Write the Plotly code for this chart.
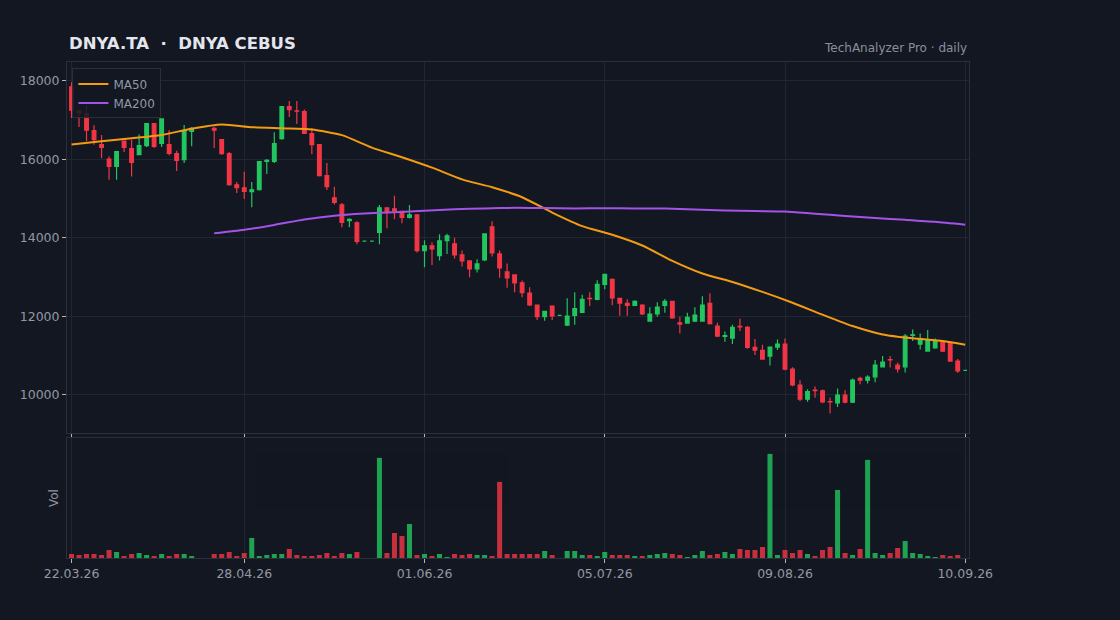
import pandas as pd
import plotly.graph_objects as go

# ---------------- data ----------------
holidays = ["2026-04-01", "2026-04-02", "2026-04-08", "2026-04-22", "2026-07-23"]
dates = pd.bdate_range("2026-03-22", "2026-09-10", freq="C",
                       weekmask="Sun Mon Tue Wed Thu", holidays=holidays)
labels = [d.strftime("%d.%m.%y") for d in dates]

N = None
open_ = [17847, 17243, 17166, 16732, 16375, 16009, 15821, 16468, 16273, 16119,
         16349, 16911, 16409, 16375, 16145, 15991, 16715, N, N, 16792,
         16502, 16145, 15353, 15277, 15175, 15226, 15950, 15949, 16528, 17345,
         17234, 17217, 16656, 16375, 15583, 15022, 14843, 14440, 14383, 13915,
         13915, 14136, 14766, 14741, 14673, 14519, 14588, 13677, 13796, 13549,
         13932, 13847, 13566, 13413, 13209, 13439, 14281, 13592, 13132, 13056,
         12851, 12596, 12290, 11990, 12264, 12026, 11779, 12026, 12102, 12460,
         12434, 12817, 12945, 12460, 12332, 12281, 12290, 11881, 12060, 12281,
         12383, 11838, 11830, 11881, 11881, 12332, 11754, 11490, 11447, 11745,
         11719, 11209, 11132, 10988, 11217, 11294, 10656, 10247, 9890, 10120,
         10103, 9830, 9796, 9992, 9813, 10418, 10375, 10460, 10716, 10900,
         10758, 10716, 11515, 11294, 11115, 11200, 11353, 11328, 10860, 10622]
high = [17966, 17260, 17370, 16868, 16621, 16077, 16210, 16480, 16502, 16638,
        16920, 16925, 17040, 16741, 16221, 16877, 16826, N, N, 16826,
        16519, 16187, 15421, 15685, 15421, 15958, 16009, 16689, 17360, 17489,
        17489, 17268, 16800, 16390, 15906, 15302, 14885, 14502, 14426, 13915,
        13915, 14834, 14770, 15073, 14680, 14834, 14595, 13941, 13890, 14094,
        14102, 14000, 13677, 13420, 13456, 14110, 14426, 13677, 13345, 13073,
        12911, 12741, 12300, 12140, 12281, 12026, 12460, 12613, 12553, 12613,
        12919, 13080, 12962, 12465, 12434, 12409, 12307, 12230, 12358, 12443,
        12390, 11992, 12094, 12230, 12511, 12587, 11838, 11617, 11787, 11941,
        11753, 11421, 11277, 11225, 11413, 11438, 10707, 10375, 10145, 10213,
        10137, 9932, 10162, 10120, 10418, 10460, 10503, 10886, 10988, 10988,
        10826, 11549, 11668, 11566, 11651, 11438, 11360, 11335, 10911, 10622]
low = [17055, 16826, 16460, 16375, 16026, 15481, 15481, 16187, 15566, 16102,
       16315, 16290, 16315, 16102, 15702, 15906, 16332, N, N, 16290,
       16119, 15328, 15141, 14987, 14783, 15209, 15626, 15906, 16502, 17081,
       16902, 16656, 16128, 15566, 15217, 14851, 14273, 14273, 13839, 13915,
       13915, 13839, 14247, 14477, 14375, 14494, 13626, 13252, 13311, 13422,
       13592, 13473, 13268, 12996, 13115, 13413, 13524, 12987, 12732, 12613,
       12485, 12264, 11907, 11890, 11907, 12026, 11754, 11788, 12085, 12264,
       12409, 12689, 12281, 12017, 12017, 12264, 12034, 11864, 11992, 12094,
       11941, 11566, 11813, 11856, 11864, 11796, 11472, 11353, 11294, 11625,
       11175, 11013, 10894, 10749, 11141, 10630, 10222, 9839, 9822, 9924,
       9788, 9524, 9694, 9788, 9796, 10273, 10290, 10324, 10699, 10699,
       10571, 10571, 11370, 11158, 11098, 11175, 11090, 10843, 10562, 10622]
close = [17251, 17175, 16741, 16502, 16307, 15821, 16196, 16307, 15923, 16349,
         16911, 16332, 17030, 16153, 15974, 16724, 16792, N, N, 16741,
         16145, 15353, 15277, 15183, 15226, 15941, 15974, 16400, 17345, 17268,
         17226, 16664, 16375, 15583, 15302, 14902, 14392, 14470, 13907, 13915,
         13915, 14766, 14647, 14690, 14519, 14588, 13677, 13796, 13720, 13924,
         14051, 13566, 13413, 13209, 13336, 14100, 13617, 13234, 12979, 12851,
         12604, 12290, 11992, 12130, 12009, 12026, 12009, 12196, 12434, 12450,
         12817, 13073, 12468, 12340, 12281, 12383, 12060, 12060, 12238, 12383,
         11958, 11805, 11975, 12034, 12290, 11813, 11498, 11510, 11719, 11735,
         11209, 11141, 10911, 11217, 11294, 10656, 10256, 9890, 10086, 10110,
         9822, 9822, 9992, 9813, 10375, 10375, 10452, 10758, 10835, 10890,
         10665, 11498, 11532, 11413, 11396, 11370, 11115, 10860, 10613, 10622]
volume = [40000, 30000, 40000, 40000, 30000, 80000, 60000, 20000, 40000, 50000,
          30000, 20000, 40000, 20000, 40000, 40000, 20000, N, N, 40000,
          40000, 60000, 20000, 50000, 200000, 20000, 30000, 40000, 40000, 90000,
          30000, 20000, 20000, 30000, 50000, 20000, 50000, 40000, 60000, N,
          N, 1000000, 50000, 250000, 220000, 340000, 30000, 40000, 20000, 40000,
          10000, 40000, 30000, 40000, 30000, 30000, 20000, 760000, 40000, 40000,
          40000, 40000, 40000, 70000, 30000, N, 70000, 70000, 30000, 30000,
          20000, 60000, 30000, 30000, 30000, 20000, 20000, 30000, 40000, 50000,
          40000, 30000, 10000, 30000, 70000, 30000, 40000, 60000, 40000, 90000,
          80000, 80000, 110000, 1040000, 30000, 80000, 50000, 80000, 40000, 20000,
          80000, 110000, 680000, 50000, 30000, 90000, 980000, 50000, 30000, 50000,
          100000, 170000, 50000, 40000, 20000, 10000, 30000, 20000, 30000, N]

ma50_idx = [0, 4, 8, 12, 16, 20, 24, 28, 32, 36, 40, 44, 48, 52, 56, 60,
            64, 68, 72, 76, 80, 84, 88, 92, 96, 100, 104, 108, 112, 116, 119]
ma50_val = [16380, 16460, 16536, 16621, 16780, 16885, 16820, 16790, 16760, 16617,
            16300, 16055, 15790, 15490, 15290, 15035, 14645, 14300, 14080, 13806,
            13414, 13092, 12877, 12623, 12347, 12043, 11753, 11540, 11440, 11370,
            11277]
ma200_idx = [19, 23, 27, 31, 35, 39, 43, 47, 51, 55, 59, 63, 67, 71, 75, 79,
             83, 87, 91, 95, 99, 103, 107, 111, 115, 119]
ma200_val = [14115, 14205, 14330, 14470, 14565, 14618, 14655, 14688, 14728, 14750,
             14765, 14760, 14750, 14755, 14750, 14745, 14722, 14700, 14683, 14673,
             14615, 14560, 14505, 14460, 14410, 14335]

tick_idx = [0, 23, 47, 71, 95, 119]
price_ticks = [10000, 12000, 14000, 16000, 18000]

# ---------------- style ----------------
BG = "#131722"
GRID = "#222633"
BORDER = "#2a2f3c"
TXT = "#9398a5"
UP = "#22c55e"
DOWN = "#f23645"
FONT = "DejaVu Sans"

# volume colours by direction (previous close for flat candles)
vol_colors = []
prev_c = None
for o, c in zip(open_, close):
    if o is None:
        vol_colors.append(UP)
        continue
    if c == o:
        up = (prev_c is None) or (c >= prev_c)
    else:
        up = c > o
    vol_colors.append(UP if up else DOWN)
    prev_c = c

fig = go.Figure()
fig.add_trace(go.Candlestick(
    x=labels, open=open_, high=high, low=low, close=close,
    increasing=dict(line=dict(color=UP, width=1.2), fillcolor=UP),
    decreasing=dict(line=dict(color=DOWN, width=1.2), fillcolor=DOWN),
    showlegend=False, name="DNYA.TA", xaxis="x", yaxis="y"))
fig.add_trace(go.Scatter(
    x=[labels[i] for i in ma50_idx], y=ma50_val, mode="lines", name="MA50",
    line=dict(color="#f39c12", width=2, shape="spline", smoothing=0.6),
    xaxis="x", yaxis="y"))
fig.add_trace(go.Scatter(
    x=[labels[i] for i in ma200_idx], y=ma200_val, mode="lines", name="MA200",
    line=dict(color="#a353e8", width=2, shape="spline", smoothing=0.6),
    xaxis="x", yaxis="y"))
fig.add_trace(go.Bar(
    x=labels, y=volume, marker=dict(color=vol_colors, line=dict(width=0)),
    opacity=0.8, showlegend=False, name="Vol", xaxis="x2", yaxis="y2"))

axis_common = dict(
    type="category", categoryorder="array", categoryarray=labels,
    range=[-0.6, 119.5], tickmode="array",
    tickvals=[labels[i] for i in tick_idx], ticktext=[labels[i] for i in tick_idx],
    showgrid=True, gridcolor=GRID, gridwidth=1, zeroline=False,
    showline=True, linecolor=BORDER, linewidth=1, mirror=True,
    ticks="outside", ticklen=4, tickcolor="#b2b5be", tickwidth=1,
    tickfont=dict(family=FONT, size=12.5, color=TXT),
    showspikes=False,
)

fig.update_layout(
    width=1120, height=620,
    paper_bgcolor=BG, plot_bgcolor=BG,
    font=dict(family=FONT, size=12, color=TXT),
    margin=dict(l=67, r=151, t=62, b=62),
    bargap=0.33,
    hovermode=False,
    dragmode=False,
    showlegend=True,
    legend=dict(x=0.006, y=0.987, xanchor="left", yanchor="top",
                bgcolor="rgba(19,23,34,0.85)", bordercolor=BORDER, borderwidth=1,
                font=dict(family=FONT, size=12, color=TXT),
                itemwidth=30, tracegroupgap=2),
    xaxis=dict(axis_common, anchor="y", showticklabels=False,
               rangeslider=dict(visible=False)),
    xaxis2=dict(axis_common, anchor="y2", matches="x", showticklabels=True),
    yaxis=dict(domain=[0.2517, 1.0], range=[9025, 18480], tickmode="array",
               tickvals=price_ticks, tickformat="d",
               showgrid=True, gridcolor=GRID, zeroline=False,
               showline=True, linecolor=BORDER, mirror=True,
               ticks="outside", ticklen=4, tickcolor="#b2b5be",
               tickfont=dict(family=FONT, size=12.5, color=TXT)),
    yaxis2=dict(domain=[0.0, 0.2416], range=[0, 1197000],
                showticklabels=False, showgrid=False, zeroline=False,
                showline=True, linecolor=BORDER, mirror=True, ticks="",
                title=dict(text="Vol", font=dict(family=FONT, size=12, color=TXT),
                           standoff=4)),
    annotations=[
        dict(text="<b>DNYA.TA \u00a0·\u00a0 DNYA CEBUS</b>", xref="paper", yref="paper",
             x=0, y=1.038, xanchor="left", yanchor="middle", showarrow=False,
             font=dict(family=FONT, size=16.5, color="#e3e6ec")),
        dict(text="TechAnalyzer Pro · daily", xref="paper", yref="paper",
             x=1, y=1.028, xanchor="right", yanchor="middle", showarrow=False,
             font=dict(family=FONT, size=12, color="#8a8f9c")),
    ],
)

fig.write_html(
    "out.html",
    config={"displayModeBar": False, "staticPlot": True},
    post_script="document.body.style.margin='0';document.body.style.background='#131722';",
)
